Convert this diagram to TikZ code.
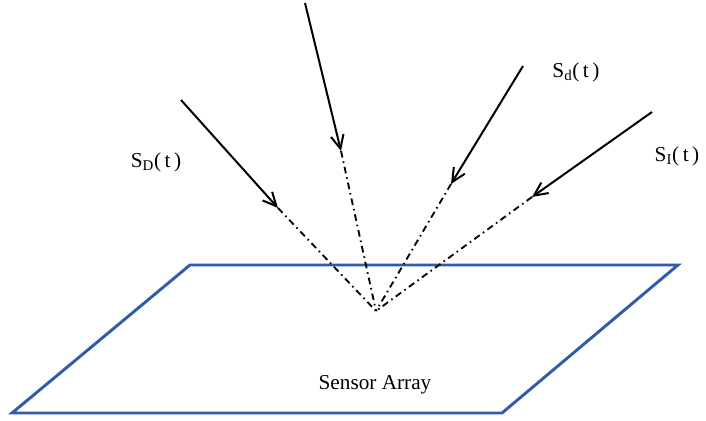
\documentclass[tikz,border=0pt]{standalone}
\usepackage{fontspec}
\setmainfont{Liberation Serif}
\usetikzlibrary{calc,positioning,arrows.meta}
\definecolor{arrayBlue}{HTML}{2F5BAA}

\begin{document}
\begin{tikzpicture}[x=0.02646cm,y=-0.02646cm,
  ray/.style={line width=1.5pt,-{Straight Barb[length=3.6mm,width=3.4mm,line width=1.5pt]}},
  trail/.style={line width=1.4pt,dash pattern=on 5pt off 3pt on 1.2pt off 3pt},
  sig/.style={font=\fontsize{16}{19}\selectfont,inner sep=1pt}
]
  \useasboundingbox (0,0) rectangle (706,421);
  % sensor plane
  \coordinate (pTL) at (190,265);
  \coordinate (pTR) at (678,265);
  \coordinate (pBR) at (502,413);
  \coordinate (pBL) at (12,413);
  \draw[arrayBlue,line width=2.2pt,line join=miter] (pTL) -- (pTR) -- (pBR) -- (pBL) -- cycle;
  \node[sig] (plane) at (375,385) {Sensor Array};
  % common point of arrival
  \coordinate (focus) at (376,311);
  % incoming signals
  \coordinate (startD) at (181,100);  \coordinate (tipD) at (278,208);
  \coordinate (startM) at (305,3);    \coordinate (tipM) at (341,151);
  \coordinate (startd) at (523,66);   \coordinate (tipd) at (451,184);
  \coordinate (startI) at (652,112);  \coordinate (tipI) at (532,197);
  \draw[ray] (startD) -- (tipD);
  \draw[ray] (startM) -- (tipM);
  \draw[ray] (startd) -- (tipd);
  \draw[ray] (startI) -- (tipI);
  \draw[trail] (tipD) -- (focus);
  \draw[trail] (tipM) -- (focus);
  \draw[trail] (tipd) -- (focus);
  \draw[trail] (tipI) -- (focus);
  \node[sig] (labD) at (156,162) {S$_{\mathrm{D}}$(\,t\,)};
  \node[sig] (labd) at (576,72) {S$_{\mathrm{d}}$(\,t\,)};
  \node[sig] (labI) at (677,156) {S$_{\mathrm{I}}$(\,t\,)};
\end{tikzpicture}
\end{document}
